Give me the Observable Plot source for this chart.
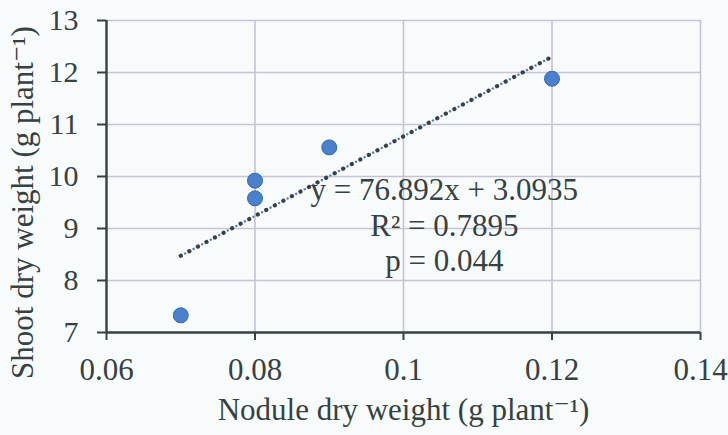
<!DOCTYPE html>
<html>
<head>
<meta charset="utf-8">
<script src="https://cdn.jsdelivr.net/npm/d3@7"></script>
<script src="https://cdn.jsdelivr.net/npm/@observablehq/plot@0.6"></script>
<style>
  html, body { margin: 0; padding: 0; background: #f8fbfc; }
  #chart svg, #chart svg text { font-family: "Liberation Serif", "DejaVu Serif", "Times New Roman", serif !important; }
</style>
</head>
<body>
<div id="chart"></div>
<script>
// Data
const noduleWeight = [0.07, 0.08, 0.08, 0.09, 0.12];
const shootWeight  = [7.33, 9.92, 9.58, 10.56, 11.88];

const xTicks = [0.06, 0.08, 0.1, 0.12, 0.14];
const xTickLabels = ["0.06", "0.08", "0.1", "0.12", "0.14"];
const yTicks = [7, 8, 9, 10, 11, 12, 13];
const yTickLabels = ["7", "8", "9", "10", "11", "12", "13"];

const annotationLines = ["y = 76.892x + 3.0935", "R² = 0.7895", "p = 0.044"];
const xLabel = "Nodule dry weight (g plant⁻¹)";
const yLabel = "Shoot dry weight (g plant⁻¹)";

const points = noduleWeight.map((x, i) => ({x, y: shootWeight[i]}));

const ink = "#364141";
const gridColor = "#c8c2d6";
const serif = "'Liberation Serif', 'DejaVu Serif', 'Times New Roman', serif";

const chart = Plot.plot({
  width: 728,
  height: 435,
  marginLeft: 106,
  marginRight: 28,
  marginTop: 20,
  marginBottom: 103,
  style: {
    background: "#f8fbfc",
    color: ink,
    fontFamily: serif,
    fontSize: "30px"
  },
  x: {domain: [0.06, 0.14]},
  y: {domain: [7, 13]},
  marks: [
    Plot.gridX(xTicks.slice(1), {stroke: gridColor, strokeOpacity: 1, strokeWidth: 1.6}),
    Plot.gridY(yTicks.slice(1), {stroke: gridColor, strokeOpacity: 1, strokeWidth: 1.6}),
    Plot.axisX({
      ticks: xTicks,
      tickFormat: (d, i) => xTickLabels[i],
      tickSize: 8,
      tickPadding: 17,
      fontSize: 31,
      fontFamily: serif,
      strokeWidth: 2,
      label: null
    }),
    Plot.axisY({
      ticks: yTicks,
      tickFormat: (d, i) => yTickLabels[i],
      tickSize: 9,
      tickPadding: 19,
      fontSize: 30,
      fontFamily: serif,
      strokeWidth: 2,
      label: null
    }),
    Plot.ruleX([0.06], {stroke: ink, strokeWidth: 2.4}),
    Plot.ruleY([7], {stroke: ink, strokeWidth: 2.4}),
    Plot.linearRegressionY(points, {
      x: "x", y: "y", ci: 0,
      stroke: "#4a80cc",
      strokeWidth: 2.4,
      strokeDasharray: "0.1 9.6",
      strokeDashoffset: 4.85,
      strokeLinecap: "round"
    }),
    Plot.linearRegressionY(points, {
      x: "x", y: "y", ci: 0,
      stroke: "#3a4046",
      strokeWidth: 4.2,
      strokeDasharray: "0.1 9.6",
      strokeLinecap: "round"
    }),
    Plot.dot(points, {
      x: "x", y: "y", r: 7.5,
      fill: "#4a80cc", stroke: "#2e68b4", strokeWidth: 1
    }),
    Plot.text([annotationLines.join("\n")], {
      x: 0.1055, y: 9.08,
      text: d => d,
      textAnchor: "middle",
      lineAnchor: "middle",
      lineHeight: 1.15,
      fontSize: 31,
      fontFamily: serif,
      fill: ink
    }),
    Plot.text([xLabel], {
      frameAnchor: "bottom",
      text: d => d,
      textAnchor: "middle",
      lineAnchor: "middle",
      dy: 78,
      fontSize: 31,
      fontFamily: serif,
      fill: ink
    }),
    Plot.text([yLabel], {
      frameAnchor: "left",
      text: d => d,
      textAnchor: "middle",
      lineAnchor: "middle",
      rotate: -90,
      dx: -83,
      dy: 26,
      fontSize: 31,
      fontFamily: serif,
      fill: ink
    })
  ]
});

document.getElementById("chart").appendChild(chart);
</script>
</body>
</html>
